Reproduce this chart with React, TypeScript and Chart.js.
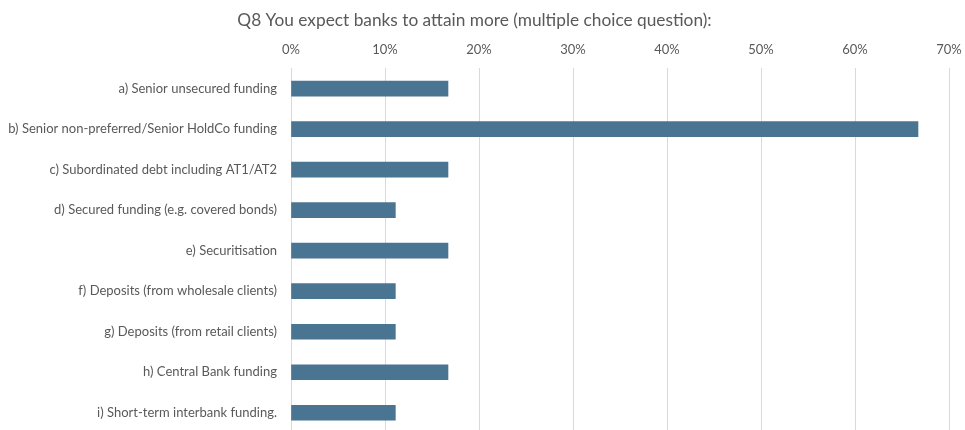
import React, { useEffect, useRef } from "react";
import { Chart, registerables } from "chart.js";

Chart.register(...registerables);

const title = "Q8 You expect banks to attain more (multiple choice question):";
const categories = [
  "a) Senior unsecured funding",
  "b) Senior non-preferred/Senior HoldCo funding",
  "c) Subordinated debt including AT1/AT2",
  "d) Secured funding (e.g. covered bonds)",
  "e) Securitisation",
  "f) Deposits (from wholesale clients)",
  "g) Deposits (from retail clients)",
  "h) Central Bank funding",
  "i) Short-term interbank funding.",
];
const values = [16.7, 66.7, 16.7, 11.1, 16.7, 11.1, 11.1, 16.7, 11.1];
const axisMax = 70;
const axisStep = 10;

export default function App() {
  const ref = useRef<HTMLCanvasElement | null>(null);
  useEffect(() => {
    document.body.style.margin = "0";
    const ctx = ref.current!;
    const chart = new Chart(ctx, {
      type: "bar",
      data: {
        labels: categories,
        datasets: [
          {
            data: values,
            backgroundColor: "#4a7592",
            barThickness: 15,
          },
        ],
      },
      options: {
        indexAxis: "y",
        animation: false,
        responsive: false,
        maintainAspectRatio: false,
        layout: { padding: { left: 0, right: 16, top: 8, bottom: 0 } },
        plugins: {
          legend: { display: false },
          tooltip: { enabled: false },
          title: {
            display: true,
            text: title,
            color: "#595959",
            font: { family: "Lato", size: 17.3, weight: "normal" },
            padding: { top: 2, bottom: 0 },
          },
        },
        scales: {
          x: {
            position: "top",
            min: 0,
            max: axisMax,
            ticks: {
              stepSize: axisStep,
              callback: (v: any) => v + "%",
              color: "#595959",
              font: { family: "Lato", size: 13 },
              padding: 11,
            },
            grid: { color: "#d9d9d9", drawTicks: false },
            border: { display: false },
            afterFit: (scale: any) => {
              scale.paddingLeft = 0;
              scale.paddingRight = 0;
            },
          },
          y: {
            ticks: {
              color: "#595959",
              font: { family: "Lato", size: 13 },
              padding: 14,
            },
            grid: { display: false, drawTicks: false },
            border: { display: false },
            afterFit: (scale: any) => {
              scale.width = 291;
              scale.paddingTop = 0;
              scale.paddingBottom = 0;
            },
          },
        },
      },
    });
    return () => chart.destroy();
  }, []);
  return (
    <div style={{ width: 965, height: 430, overflow: "hidden", position: "relative" }}>
      <canvas ref={ref} width={965} height={433} style={{ display: "block", width: 965, height: 433 }} />
    </div>
  );
}
